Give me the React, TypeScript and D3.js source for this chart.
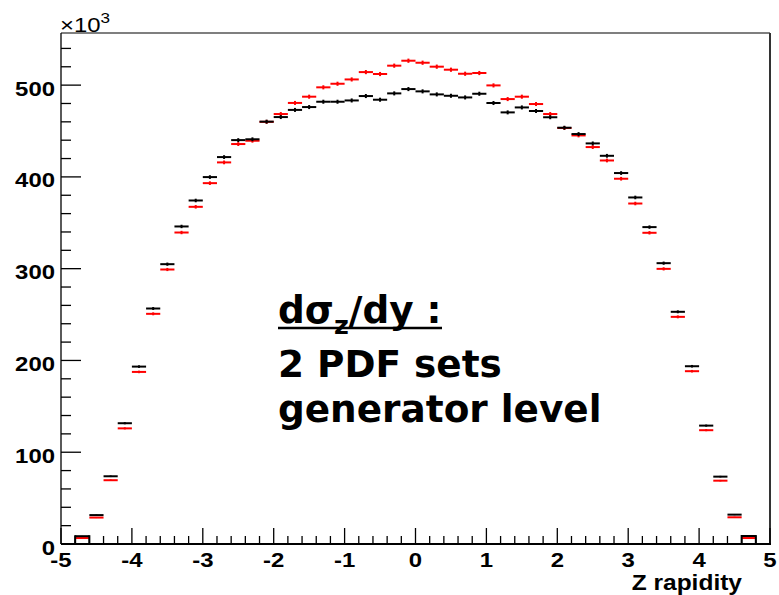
import React from "react";
import * as d3 from "d3";

// Bin centres (bin width 0.2) over Z rapidity range [-5, 5]
const binCenters: number[] = [
  -4.9, -4.7, -4.5, -4.3, -4.1, -3.9, -3.7, -3.5, -3.3, -3.1,
  -2.9, -2.7, -2.5, -2.3, -2.1, -1.9, -1.7, -1.5, -1.3, -1.1,
  -0.9, -0.7, -0.5, -0.3, -0.1, 0.1, 0.3, 0.5, 0.7, 0.9,
  1.1, 1.3, 1.5, 1.7, 1.9, 2.1, 2.3, 2.5, 2.7, 2.9,
  3.1, 3.3, 3.5, 3.7, 3.9, 4.1, 4.3, 4.5, 4.7, 4.9,
];
const binWidth = 0.2;

// values in units of 10^3
const blackValues: number[] = [
  0, 8.5, 31.5, 73.8, 131.6, 193.3, 256.6, 304.9, 346, 374.3,
  399.8, 421.6, 440.1, 441, 460.2, 465.2, 473, 476.1, 481.9, 481.9,
  483.3, 488.1, 484.1, 491, 495.7, 493.2, 489.9, 488.4, 486.6, 490.6,
  480.5, 470.3, 475.7, 471.8, 465, 453.6, 446.7, 436.5, 423, 404.2,
  377.6, 345.3, 306, 253, 193.7, 129, 73.4, 32, 8.7, 0,
];
const redValues: number[] = [
  0, 6.5, 28.8, 69.5, 126, 187.5, 250.8, 299.1, 339.4, 367.4,
  393.2, 415.8, 435.8, 439.4, 460, 468.5, 480.6, 487.4, 497.6, 501.5,
  506.2, 514.2, 512.1, 521.2, 526.6, 524.4, 520.1, 516.8, 512.4, 513.2,
  499.7, 484.8, 487.4, 479.4, 468.5, 453.3, 445.2, 432.5, 417.9, 398,
  371, 339.1, 299.8, 247.5, 188.3, 124, 69, 29.1, 6.5, 0,
];

const xTickLabels: number[] = [-5, -4, -3, -2, -1, 0, 1, 2, 3, 4, 5];
const yTickLabels: number[] = [0, 100, 200, 300, 400, 500];

const W = 779;
const H = 595;
const left = 61;
const right = 770;
const top = 33;
const bottom = 544;
const xDomain: [number, number] = [-5, 5];
const yDomain: [number, number] = [0, 556.8];

const x = d3.scaleLinear().domain(xDomain).range([left, right]);
const y = d3.scaleLinear().domain(yDomain).range([bottom, top]);

const errScale = 0.1; // statistical error ~ sqrt(N), in 10^3 units

const labelFont = "'Liberation Sans', Arial, Helvetica, sans-serif";
const stretch = 1.14;

function Series({ values, color, sides }: { values: number[]; color: string; sides: boolean }) {
  return (
    <g stroke={color} strokeWidth={2} fill="none">
      {values.map((v, i) => {
        if (v <= 0) return null;
        const c = binCenters[i];
        const x0 = x(c - binWidth / 2);
        const x1 = x(c + binWidth / 2);
        const xc = x(c);
        const yv = y(v);
        const e = errScale * Math.sqrt(v);
        const edge =
          sides &&
          ((i > 0 && values[i - 1] <= 0) || (i < values.length - 1 && values[i + 1] <= 0));
        return (
          <g key={i}>
            <line x1={x0} x2={x1} y1={yv} y2={yv} />
            <line x1={xc} x2={xc} y1={y(v - e)} y2={y(v + e)} />
            {edge && (
              <>
                <line x1={x0} x2={x0} y1={yv - 1} y2={y(0)} />
                <line x1={x1} x2={x1} y1={yv - 1} y2={y(0)} />
              </>
            )}
          </g>
        );
      })}
    </g>
  );
}

export default function App() {
  const yMajor = yTickLabels;
  const yMinor = d3.range(0, yDomain[1], 20).filter((v) => v % 100 !== 0);
  const xMajor = xTickLabels;
  const xMinor = d3
    .range(-5, 5.0001, 0.2)
    .map((v) => +v.toFixed(1))
    .filter((v) => Math.abs(v - Math.round(v)) > 1e-6);

  return (
    <svg
      width={W}
      height={H}
      style={{ position: "absolute", left: 0, top: 0, background: "#fff" }}
    >
      <rect x={0} y={0} width={W} height={H} fill="#fff" />
      {/* frame */}
      <line x1={left} x2={right} y1={top} y2={top} stroke="#000" strokeWidth={1.2} />
      <line x1={right} x2={right} y1={top} y2={bottom} stroke="#333" strokeWidth={2} />
      <line x1={left} x2={left} y1={top} y2={bottom} stroke="#000" strokeWidth={1.3} />
      <line x1={left} x2={right + 1} y1={bottom} y2={bottom} stroke="#000" strokeWidth={2} />

      {/* y ticks */}
      {yMajor.map((v) => (
        <line key={"ym" + v} x1={left} x2={left + 20} y1={y(v)} y2={y(v)} stroke="#000" strokeWidth={1.3} />
      ))}
      {yMinor.map((v) => (
        <line key={"yn" + v} x1={left} x2={left + 10} y1={y(v)} y2={y(v)} stroke="#000" strokeWidth={1.3} />
      ))}
      {yMajor.map((v) => (
        <g key={"yl" + v} transform={`translate(55,${y(v) + 10.5}) scale(${stretch},1)`}>
          <text textAnchor="end" fontFamily={labelFont} fontWeight="bold" fontSize={21} fill="#000">
            {v}
          </text>
        </g>
      ))}

      {/* x ticks */}
      {xMajor.map((v) => (
        <line key={"xm" + v} x1={x(v)} x2={x(v)} y1={bottom} y2={bottom - 16} stroke="#000" strokeWidth={1.3} />
      ))}
      {xMinor.map((v) => (
        <line key={"xn" + v} x1={x(v)} x2={x(v)} y1={bottom} y2={bottom - 8} stroke="#000" strokeWidth={1.3} />
      ))}
      {xMajor.map((v) => (
        <g key={"xl" + v} transform={`translate(${x(v)},567) scale(${stretch},1)`}>
          <text textAnchor="middle" fontFamily={labelFont} fontWeight="bold" fontSize={21} fill="#000">
            {v}
          </text>
        </g>
      ))}

      {/* axis title */}
      <g transform={`translate(742,590) scale(${stretch},1)`}>
        <text textAnchor="end" fontFamily={labelFont} fontWeight="bold" fontSize={21.5} fill="#000">
          Z rapidity
        </text>
      </g>

      {/* exponent */}
      <g transform={`translate(60,32) scale(1.14,1)`}>
        <text fontFamily={labelFont} fontSize={21} fill="#000">
          ×10
          <tspan fontSize={15} dy={-9}>3</tspan>
        </text>
      </g>

      {/* data */}
      <Series values={redValues} color="#ff0000" sides={false} />
      <Series values={blackValues} color="#000000" sides={true} />

      {/* annotation */}
      <g fontFamily="'DejaVu Sans', sans-serif" fontWeight="bold" fill="#000">
        <text x={278} y={323} fontSize={37.4}>
          dσ<tspan fontSize={25.5} dy={11}>z</tspan>
          <tspan dy={-11}>/dy :</tspan>
        </text>
        <line x1={278} x2={442} y1={328} y2={328} stroke="#000" strokeWidth={2.5} />
        <text x={278} y={377} fontSize={37.4}>2 PDF sets</text>
        <text x={278} y={422} fontSize={37.4}>generator level</text>
      </g>
    </svg>
  );
}
